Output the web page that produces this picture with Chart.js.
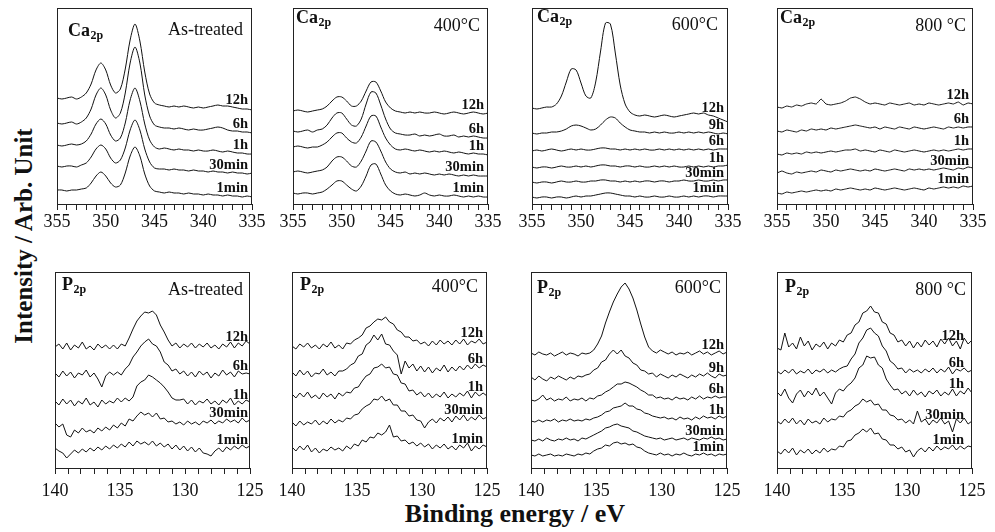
<!DOCTYPE html>
<html>
<head>
<meta charset="utf-8">
<script src="https://cdn.jsdelivr.net/npm/chart.js@4.4.1/dist/chart.umd.min.js"></script>
<style>
  body { margin: 0; width: 995px; height: 532px; background: #fff; position: relative; overflow: hidden; font-family: "Liberation Serif", "Times New Roman", serif; color: #111; }
  canvas { position: absolute; }
  #ytitle { position: absolute; left: 23px; top: 236px; transform: translate(-50%, -50%) rotate(-90deg); font-weight: bold; font-size: 25px; line-height: 25px; white-space: nowrap; }
  #xtitle { position: absolute; left: 515px; top: 501px; transform: translateX(-50%); font-weight: bold; font-size: 26px; line-height: 26px; white-space: nowrap; }
</style>
</head>
<body>
<div id="ytitle">Intensity / Arb. Unit</div>
<div id="xtitle">Binding energy / eV</div>
<script>
// Binding energy grids (eV)
const caEnergy = [355, 354.5, 354, 353.5, 353, 352.5, 352, 351.5, 351, 350.5, 350, 349.5, 349, 348.5, 348, 347.5, 347, 346.5, 346, 345.5, 345, 344.5, 344, 343.5, 343, 342.5, 342, 341.5, 341, 340.5, 340, 339.5, 339, 338.5, 338, 337.5, 337, 336.5, 336, 335.5, 335];
const pEnergy = [140, 139.7, 139.4, 139.1, 138.8, 138.5, 138.2, 137.9, 137.6, 137.3, 137, 136.7, 136.4, 136.1, 135.8, 135.5, 135.2, 134.9, 134.6, 134.3, 134, 133.7, 133.4, 133.1, 132.8, 132.5, 132.2, 131.9, 131.6, 131.3, 131, 130.7, 130.4, 130.1, 129.8, 129.5, 129.2, 128.9, 128.6, 128.3, 128, 127.7, 127.4, 127.1, 126.8, 126.5, 126.2, 125.9, 125.6, 125.3, 125];

// Tick labels
const caTicks = [355, 350, 345, 340, 335];
const pTicks = [140, 135, 130, 125];

// Trace labels
const labels5 = ['12h', '6h', '1h', '30min', '1min'];
const labels6 = ['12h', '9h', '6h', '1h', '30min', '1min'];

// Ca2p, as-treated (stacked intensity, arb. units)
const caAs12h = [106, 105, 106, 107, 105, 107, 111, 120, 134, 141, 134, 119, 111, 115, 135, 164, 180, 163, 132, 110, 101, 99, 98, 97, 98, 97, 98, 97, 96, 97, 96, 97, 98, 99, 98, 98, 97, 96, 95, 95, 94];
const caAs6h = [81, 80, 81, 82, 80, 82, 86, 95, 109, 116, 109, 94, 86, 91, 111, 141, 157, 141, 109, 88, 79, 77, 76, 76, 75, 76, 75, 74, 75, 74, 74, 75, 76, 77, 76, 74, 73, 73, 72, 72, 71];
const caAs1h = [59, 58, 59, 60, 59, 60, 63, 70, 80, 85, 80, 69, 63, 66, 81, 104, 116, 103, 80, 64, 57, 55, 56, 55, 54, 55, 54, 54, 53, 54, 53, 53, 54, 53, 52, 53, 52, 51, 51, 50, 50];
const caAs30m = [38, 37, 38, 38, 37, 39, 41, 47, 55, 59, 55, 46, 41, 44, 56, 74, 84, 74, 55, 42, 36, 35, 35, 34, 35, 34, 34, 33, 34, 33, 33, 32, 33, 32, 32, 31, 32, 31, 31, 30, 31];
const caAs1m = [14, 14, 13, 14, 14, 15, 16, 21, 28, 32, 28, 21, 17, 19, 31, 48, 57, 48, 30, 18, 13, 12, 11, 12, 11, 11, 10, 11, 10, 10, 9, 10, 9, 9, 8, 9, 8, 8, 7, 8, 7];

// Ca2p, 400 °C
const ca400_12h = [93, 94, 93, 92, 93, 94, 95, 98, 103, 107, 107, 103, 98, 98, 103, 113, 122, 122, 113, 102, 96, 93, 92, 91, 92, 91, 92, 91, 91, 92, 91, 90, 91, 92, 91, 90, 91, 92, 91, 90, 91];
const ca400_6h = [73, 72, 73, 74, 72, 74, 75, 79, 86, 91, 91, 85, 79, 78, 85, 100, 112, 111, 99, 85, 75, 71, 70, 69, 69, 70, 68, 69, 68, 69, 70, 68, 68, 69, 67, 68, 67, 68, 67, 66, 66];
const ca400_1h = [57, 58, 57, 56, 57, 57, 59, 62, 67, 71, 71, 66, 62, 61, 67, 78, 88, 88, 77, 66, 59, 55, 54, 55, 54, 53, 54, 53, 52, 53, 52, 53, 52, 51, 52, 51, 50, 51, 50, 50, 49];
const ca400_30m = [32, 33, 32, 31, 32, 33, 34, 37, 43, 47, 47, 43, 38, 37, 43, 53, 63, 62, 53, 42, 35, 32, 31, 32, 30, 31, 30, 31, 30, 29, 30, 29, 30, 29, 28, 29, 28, 29, 28, 28, 28];
const ca400_1m = [11, 10, 11, 11, 10, 11, 12, 15, 19, 23, 23, 19, 15, 13, 18, 28, 39, 40, 30, 19, 13, 10, 9, 10, 9, 8, 9, 11, 9, 8, 9, 8, 8, 9, 8, 7, 8, 7, 8, 7, 7];

// Ca2p, 600 °C
const ca600_12h = [96, 95, 96, 97, 97, 100, 108, 122, 135, 134, 121, 108, 106, 122, 153, 181, 180, 151, 119, 100, 92, 89, 88, 89, 88, 87, 88, 89, 88, 87, 88, 89, 90, 91, 90, 91, 89, 88, 86, 84, 82];
const ca600_9h = [71, 70, 71, 71, 72, 72, 73, 75, 78, 79, 78, 76, 74, 75, 79, 84, 87, 86, 81, 77, 74, 73, 72, 72, 71, 72, 71, 72, 71, 71, 72, 71, 72, 71, 72, 71, 72, 71, 70, 71, 70];
const ca600_6h = [53, 54, 53, 54, 55, 54, 53, 54, 55, 54, 55, 54, 54, 55, 56, 56, 55, 55, 54, 55, 54, 55, 54, 55, 54, 54, 55, 54, 55, 54, 55, 54, 55, 54, 55, 54, 55, 54, 55, 55, 55];
const ca600_1h = [37, 36, 37, 37, 36, 37, 38, 37, 37, 38, 37, 38, 37, 38, 39, 39, 38, 38, 37, 38, 38, 37, 38, 37, 37, 38, 37, 38, 37, 38, 37, 37, 38, 37, 38, 37, 38, 37, 38, 38, 39];
const ca600_30m = [22, 21, 22, 22, 21, 22, 23, 22, 22, 23, 22, 22, 23, 23, 24, 24, 23, 23, 22, 23, 22, 23, 22, 23, 23, 22, 23, 23, 22, 23, 23, 24, 23, 23, 24, 23, 23, 24, 23, 24, 24];
const ca600_1m = [7, 6, 7, 7, 6, 7, 7, 6, 7, 8, 7, 8, 8, 9, 10, 11, 11, 10, 9, 8, 8, 7, 8, 7, 7, 8, 7, 7, 8, 7, 7, 8, 7, 8, 7, 8, 8, 7, 8, 8, 8];

// Ca2p, 800 °C
const ca800_12h = [97, 96, 98, 97, 99, 98, 100, 101, 100, 105, 100, 99, 100, 101, 103, 106, 107, 105, 102, 100, 101, 100, 99, 101, 100, 99, 100, 101, 99, 100, 99, 101, 100, 99, 100, 101, 100, 102, 99, 101, 100];
const ca800_6h = [73, 72, 74, 73, 72, 74, 73, 75, 74, 75, 74, 76, 75, 76, 77, 78, 79, 78, 77, 76, 77, 75, 77, 76, 75, 77, 76, 75, 77, 76, 75, 76, 77, 76, 75, 77, 76, 77, 76, 77, 77];
const ca800_1h = [50, 49, 51, 50, 51, 50, 52, 51, 52, 51, 52, 53, 52, 53, 54, 54, 55, 53, 54, 53, 52, 54, 53, 52, 54, 53, 52, 53, 54, 53, 52, 53, 54, 53, 54, 53, 54, 55, 54, 55, 55];
const ca800_30m = [31, 33, 31, 30, 32, 31, 32, 33, 32, 34, 33, 32, 34, 33, 34, 35, 34, 33, 34, 33, 35, 34, 33, 34, 35, 34, 33, 35, 34, 35, 34, 35, 34, 35, 36, 35, 34, 36, 35, 37, 36];
const ca800_1m = [11, 10, 12, 11, 12, 13, 12, 13, 14, 13, 14, 13, 15, 14, 15, 16, 15, 14, 15, 14, 16, 15, 14, 15, 16, 15, 14, 15, 16, 15, 14, 16, 15, 16, 17, 16, 17, 16, 18, 17, 18];

// P2p, as-treated
const pAs12h = [121, 124, 119, 125, 118, 123, 120, 126, 119, 122, 118, 124, 120, 123, 119, 123, 119, 124, 122, 130, 139, 147, 152, 156, 155, 157, 153, 143, 136, 128, 122, 125, 120, 124, 121, 125, 120, 124, 121, 125, 120, 123, 119, 124, 121, 126, 120, 125, 122, 127, 124];
const pAs6h = [95, 91, 97, 92, 96, 90, 95, 93, 98, 91, 95, 89, 81, 92, 96, 93, 96, 93, 99, 103, 111, 116, 122, 126, 129, 124, 122, 116, 106, 103, 97, 99, 94, 97, 92, 96, 91, 97, 93, 96, 90, 95, 92, 98, 93, 96, 91, 97, 94, 95, 94];
const pAs1h = [67, 63, 69, 64, 68, 62, 67, 64, 70, 63, 66, 61, 68, 64, 67, 65, 70, 66, 70, 67, 71, 82, 86, 88, 93, 91, 88, 85, 81, 76, 70, 68, 68, 69, 64, 68, 63, 67, 65, 69, 64, 67, 63, 68, 65, 70, 63, 67, 64, 68, 66];
const pAs30m = [45, 41, 44, 33, 31, 38, 35, 40, 36, 38, 35, 40, 37, 41, 38, 43, 40, 45, 42, 49, 47, 52, 56, 53, 55, 51, 55, 49, 50, 46, 47, 44, 46, 43, 47, 44, 46, 43, 47, 45, 48, 44, 47, 45, 49, 46, 48, 45, 50, 46, 48];
const pAs1m = [20, 17, 15, 10, 14, 18, 15, 19, 16, 20, 17, 21, 18, 22, 19, 23, 20, 24, 21, 26, 22, 27, 24, 26, 23, 27, 22, 25, 21, 24, 19, 23, 18, 22, 17, 21, 16, 20, 15, 14, 12, 17, 20, 16, 21, 18, 22, 19, 23, 20, 22];

// P2p, 400 °C
const p400_12h = [122, 119, 124, 121, 125, 120, 123, 119, 124, 121, 126, 120, 123, 119, 125, 124, 128, 130, 133, 140, 142, 146, 149, 148, 151, 146, 144, 138, 136, 131, 131, 127, 128, 124, 126, 122, 127, 123, 128, 124, 127, 123, 128, 124, 129, 123, 127, 125, 129, 124, 126];
const p400_6h = [96, 92, 98, 93, 97, 91, 95, 94, 99, 93, 96, 92, 97, 97, 99, 103, 105, 112, 114, 123, 126, 133, 128, 134, 124, 123, 117, 113, 94, 107, 100, 104, 97, 102, 96, 101, 95, 100, 97, 103, 96, 101, 97, 102, 98, 103, 99, 104, 100, 103, 101];
const p400_1h = [74, 70, 75, 71, 76, 70, 73, 69, 75, 71, 74, 69, 75, 72, 76, 75, 80, 81, 87, 92, 94, 100, 101, 104, 100, 101, 94, 93, 85, 84, 77, 78, 73, 76, 71, 75, 70, 74, 71, 76, 70, 74, 71, 75, 72, 77, 70, 76, 72, 75, 72];
const p400_30m = [46, 42, 47, 43, 46, 44, 48, 43, 47, 44, 49, 45, 48, 46, 50, 49, 53, 54, 59, 62, 64, 69, 68, 72, 67, 69, 63, 63, 57, 57, 52, 53, 48, 47, 40, 46, 49, 45, 50, 47, 51, 46, 52, 48, 53, 47, 51, 48, 53, 49, 51];
const p400_1m = [21, 17, 22, 18, 23, 16, 20, 15, 19, 17, 21, 18, 20, 17, 22, 19, 24, 22, 28, 26, 31, 30, 35, 33, 36, 43, 31, 32, 27, 28, 24, 26, 22, 25, 21, 24, 19, 23, 20, 24, 19, 22, 18, 23, 20, 25, 17, 22, 19, 23, 21];

// P2p, 600 °C
const p600_12h = [115, 113, 116, 114, 113, 115, 112, 114, 116, 113, 115, 114, 112, 115, 114, 115, 118, 124, 132, 145, 156, 166, 174, 181, 185, 179, 170, 158, 144, 131, 121, 117, 115, 118, 116, 114, 116, 113, 115, 114, 116, 113, 115, 117, 114, 116, 113, 115, 117, 114, 116];
const p600_9h = [91, 88, 92, 89, 87, 91, 89, 92, 90, 88, 91, 89, 92, 91, 93, 94, 98, 100, 106, 108, 114, 118, 114, 118, 112, 110, 105, 103, 98, 97, 94, 95, 91, 94, 92, 90, 93, 91, 94, 92, 90, 93, 91, 94, 92, 95, 92, 90, 94, 92, 93];
const p600_6h = [68, 67, 69, 73, 68, 70, 67, 69, 68, 71, 67, 69, 68, 70, 67, 70, 69, 72, 73, 76, 78, 81, 84, 84, 86, 85, 83, 81, 78, 76, 73, 73, 70, 71, 69, 70, 68, 71, 69, 70, 68, 71, 69, 72, 69, 71, 70, 72, 70, 71, 71];
const p600_1h = [47, 46, 48, 46, 48, 47, 49, 46, 48, 47, 49, 47, 48, 47, 49, 48, 50, 51, 53, 56, 57, 60, 61, 62, 65, 62, 62, 59, 58, 55, 54, 52, 51, 50, 51, 49, 50, 48, 51, 49, 50, 48, 51, 49, 52, 50, 51, 49, 52, 50, 52];
const p600_30m = [28, 27, 29, 27, 30, 28, 27, 29, 28, 30, 28, 29, 27, 30, 29, 31, 33, 35, 37, 40, 41, 43, 44, 42, 41, 40, 37, 36, 34, 32, 31, 30, 29, 30, 28, 29, 30, 28, 29, 30, 28, 30, 29, 28, 30, 29, 31, 29, 30, 28, 29];
const p600_1m = [13, 12, 14, 12, 13, 14, 12, 13, 12, 14, 13, 12, 14, 13, 15, 14, 17, 19, 20, 23, 22, 25, 26, 24, 25, 23, 24, 21, 20, 17, 15, 14, 13, 15, 13, 14, 12, 14, 13, 15, 13, 12, 14, 13, 15, 13, 14, 12, 14, 13, 14];

// P2p, 800 °C
const p800_12h = [120, 118, 135, 121, 125, 119, 131, 122, 127, 118, 124, 121, 126, 119, 125, 122, 128, 126, 133, 135, 143, 146, 155, 157, 162, 156, 155, 146, 144, 135, 133, 126, 128, 122, 127, 120, 126, 121, 128, 123, 127, 121, 129, 124, 130, 122, 127, 119, 130, 124, 128];
const p800_6h = [97, 94, 98, 95, 99, 94, 97, 95, 99, 94, 98, 96, 99, 95, 98, 96, 99, 101, 102, 109, 114, 125, 130, 138, 140, 135, 132, 122, 117, 107, 104, 99, 100, 95, 99, 96, 98, 95, 99, 96, 100, 95, 99, 96, 101, 94, 99, 97, 100, 96, 98];
const p800_1h = [76, 72, 79, 70, 65, 74, 78, 71, 77, 73, 80, 72, 76, 70, 64, 75, 79, 77, 82, 85, 90, 100, 103, 112, 110, 111, 103, 100, 89, 83, 78, 79, 74, 77, 72, 78, 73, 76, 71, 77, 74, 78, 72, 76, 73, 79, 72, 77, 74, 80, 75];
const p800_30m = [47, 44, 49, 45, 50, 44, 48, 43, 49, 45, 47, 44, 50, 46, 49, 48, 52, 51, 56, 58, 62, 64, 69, 66, 68, 63, 64, 58, 58, 53, 52, 48, 49, 45, 48, 44, 57, 46, 49, 43, 48, 45, 50, 44, 47, 36, 49, 45, 50, 44, 47];
const p800_1m = [17, 14, 19, 15, 20, 13, 18, 15, 19, 14, 18, 15, 20, 16, 19, 18, 22, 21, 27, 28, 33, 35, 39, 36, 40, 34, 35, 29, 28, 23, 23, 19, 21, 16, 18, 11, 17, 20, 16, 21, 17, 22, 18, 21, 19, 23, 18, 22, 19, 22, 21];

// Panel layout: plot-area position in the page and label placement
const panels = [
    { x: 57, y: 8, w: 195, h: 196, energy: caEnergy, ticks: caTicks, series: [caAs12h, caAs6h, caAs1h, caAs30m, caAs1m], labels: labels5, element: 'Ca', cond: 'As-treated', head: [11, 28], condPos: [9, 27], labInset: 4, tension: 0.3, tickPad: 1 },
    { x: 293, y: 8, w: 195, h: 196, energy: caEnergy, ticks: caTicks, series: [ca400_12h, ca400_6h, ca400_1h, ca400_30m, ca400_1m], labels: labels5, element: 'Ca', cond: '400°C', head: [3, 15], condPos: [8, 23], labInset: 4, tension: 0.3, tickPad: 1 },
    { x: 532, y: 8, w: 196, h: 196, energy: caEnergy, ticks: caTicks, series: [ca600_12h, ca600_9h, ca600_6h, ca600_1h, ca600_30m, ca600_1m], labels: labels6, element: 'Ca', cond: '600°C', head: [5, 14], condPos: [10, 22], labInset: 4, tension: 0.3, tickPad: 1 },
    { x: 777, y: 8, w: 196, h: 196, energy: caEnergy, ticks: caTicks, series: [ca800_12h, ca800_6h, ca800_1h, ca800_30m, ca800_1m], labels: labels5, element: 'Ca', cond: '800 °C', head: [3, 15], condPos: [7, 23], labInset: 4, tension: 0.1, tickPad: 1 },
    { x: 55, y: 272, w: 195, h: 196, energy: pEnergy, ticks: pTicks, series: [pAs12h, pAs6h, pAs1h, pAs30m, pAs1m], labels: labels5, element: 'P', cond: 'As-treated', head: [7, 18], condPos: [7, 23], labInset: 2, tension: 0, tickPad: 6 },
    { x: 292, y: 272, w: 195, h: 196, energy: pEnergy, ticks: pTicks, series: [p400_12h, p400_6h, p400_1h, p400_30m, p400_1m], labels: labels5, element: 'P', cond: '400°C', head: [8, 18], condPos: [9, 20], labInset: 4, tension: 0, tickPad: 6 },
    { x: 531, y: 272, w: 196, h: 196, energy: pEnergy, ticks: pTicks, series: [p600_12h, p600_9h, p600_6h, p600_1h, p600_30m, p600_1m], labels: labels6, element: 'P', cond: '600°C', head: [6, 21], condPos: [6, 21], labInset: 3, tension: 0, tickPad: 6 },
    { x: 777, y: 272, w: 195, h: 196, energy: pEnergy, ticks: pTicks, series: [p800_12h, p800_6h, p800_1h, p800_30m, p800_1m], labels: labels5, element: 'P', cond: '800 °C', head: [8, 20], condPos: [6, 23], labInset: 8, tension: 0, tickPad: 6 }
];

const FONT = '"Liberation Serif", "Times New Roman", serif';
Chart.defaults.font.family = FONT;
Chart.defaults.color = '#111';

// Frame, element label, condition label and trace labels
const panelText = {
    id: 'panelText',
    afterDraw(chart, args, opts) {
        const p = opts.panel;
        const { ctx, chartArea: a, scales: { x, y } } = chart;
        ctx.save();
        ctx.strokeStyle = '#222';
        ctx.lineWidth = 1;
        ctx.strokeRect(a.left + 0.5, a.top + 0.5, a.right - a.left - 1, a.bottom - a.top);
        ctx.fillStyle = '#111';
        ctx.textBaseline = 'alphabetic';

        // Ca2p / P2p
        ctx.textAlign = 'left';
        ctx.font = 'bold 18px ' + FONT;
        const hx = a.left + p.head[0], hy = a.top + p.head[1];
        ctx.fillText(p.element, hx, hy);
        const ew = ctx.measureText(p.element).width;
        ctx.font = 'bold 12px ' + FONT;
        ctx.fillText('2p', hx + ew + 0.5, hy + 2.5);

        // Treatment
        ctx.textAlign = 'right';
        ctx.font = '18px ' + FONT;
        ctx.fillText(p.cond, a.right - p.condPos[0], a.top + p.condPos[1]);

        // Trace labels sit just above their trace at the right edge
        ctx.font = 'bold 14.5px ' + FONT;
        chart.data.datasets.forEach((ds, k) => {
            const txt = p.labels[k];
            const xr = a.right - p.labInset;
            const xl = xr - ctx.measureText(txt).width;
            const vals = ds.data.filter(d => {
                const px = x.getPixelForValue(d.x);
                return px >= xl && px <= xr;
            }).map(d => d.y);
            const m = vals.reduce((s, v) => s + v, 0) / Math.max(1, vals.length);
            ctx.fillText(txt, xr, y.getPixelForValue(m) - 4);
        });
        ctx.restore();
    }
};

const makePanel = (p) => {
    const padL = 30, padR = 30, padT = 4, axisH = 40;
    const w = p.w + padL + padR, h = p.h + padT + axisH;
    const cv = document.createElement('canvas');
    cv.width = w;
    cv.height = h;
    cv.style.left = (p.x - padL) + 'px';
    cv.style.top = (p.y - padT) + 'px';
    cv.style.width = w + 'px';
    cv.style.height = h + 'px';
    document.body.appendChild(cv);

    const lo = Math.min(...p.energy), hi = Math.max(...p.energy);

    new Chart(cv, {
        type: 'line',
        data: {
            datasets: p.series.map(s => ({
                data: p.energy.map((e, i) => ({ x: e, y: s[i] })),
                borderColor: '#111',
                borderWidth: 1,
                pointRadius: 0,
                tension: p.tension,
                fill: false
            }))
        },
        options: {
            responsive: false,
            animation: false,
            events: [],
            layout: { padding: { left: padL, right: padR, top: padT, bottom: 0 } },
            plugins: {
                legend: { display: false },
                tooltip: { enabled: false },
                panelText: { panel: p }
            },
            scales: {
                x: {
                    type: 'linear',
                    reverse: true,
                    min: lo,
                    max: hi,
                    afterFit: (scale) => { scale.height = axisH; },
                    ticks: {
                        stepSize: 1,
                        autoSkip: false,
                        maxRotation: 0,
                        padding: p.tickPad,
                        color: '#111',
                        font: { size: 18, family: FONT },
                        callback: (v) => p.ticks.includes(v) ? String(v) : ''
                    },
                    grid: {
                        drawOnChartArea: false,
                        drawTicks: true,
                        tickLength: 6,
                        color: '#222',
                        lineWidth: 1
                    },
                    border: { display: true, color: '#222', width: 1 }
                },
                y: { display: false, min: 0, max: 196 }
            }
        },
        plugins: [panelText]
    });
};

panels.forEach(makePanel);
</script>
</body>
</html>
